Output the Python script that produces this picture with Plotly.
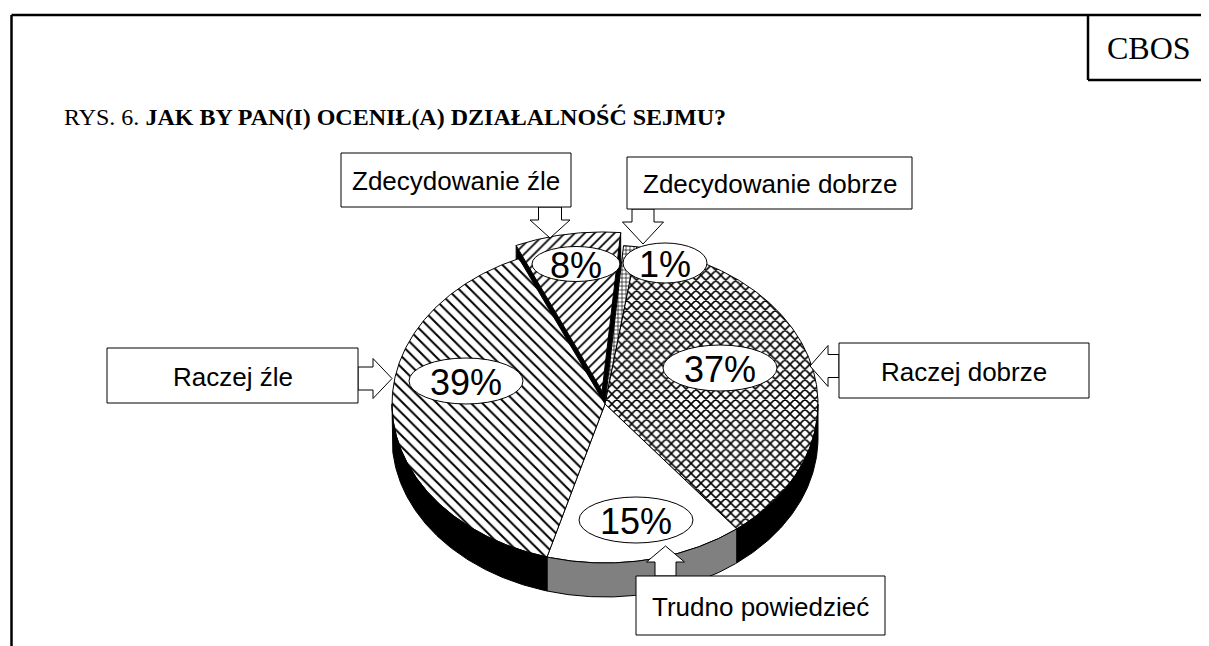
import numpy as np
import plotly.graph_objects as go

# ---------------- data ----------------
categories = ["Zdecydowanie dobrze", "Raczej dobrze", "Trudno powiedzieć", "Raczej źle", "Zdecydowanie źle"]
values = [1, 37, 15, 39, 8]
value_labels = [f"{v}%" for v in values]

title_prefix = "RYS. 6. "
title_main = "JAK BY PAN(I) OCENIŁ(A) DZIAŁALNOŚĆ SEJMU?"
source_label = "CBOS"

# ---------------- styles / layout constants ----------------
patterns = ["+", "x", "", "\\", "/"]
pattern_sizes = [4, 7, 8, 8, 7]
pattern_solid = [0.3, 0.4, 0.2, 0.25, 0.25]
wall_colors = ["black", "black", "#808080", "black", "black"]
explode = [0, 0, 0, 0, 0.083]

W, H = 1209, 646
PAGE_MARGIN = 8  # browser default body margin; axis ranges shifted so coordinates equal screen pixels
CX, CY, RX, RY, DEPTH = 605, 404, 213, 159, 34
START = 5.0  # degrees clockwise from 12 o'clock

# percent label ellipses (cx, cy, rx, ry), in category order
pct_pos = [(665, 263, 42, 20), (720, 368, 57, 23), (636, 520, 57, 23), (466, 381, 57, 23), (576, 264, 44, 17.5)]
# category boxes (x0, y0, x1, y1)
box_pos = [(627, 157, 912, 209), (839, 343, 1089, 398), (636, 576, 885, 635), (107, 348, 358, 403), (341, 153, 571, 207)]
# block arrows: base(x, y), direction, shaft length, head length, shaft half width, head half width
arrow_spec = [
    ((643, 209), (0, 1), 13, 22, 11, 20.5),
    ((839, 366), (-1, 0), 11, 18, 11.5, 20.5),
    ((665.5, 576), (0, -1), 14, 16, 10.5, 19),
    ((358, 378.5), (1, 0), 15, 19, 11.5, 20),
    ((550, 207), (0, 1), 13, 18, 11.5, 20),
]

LABEL_FONT = "Liberation Sans, Arial, sans-serif"
SERIF = "Liberation Serif, Times New Roman, serif"

# ---------------- geometry from values ----------------
total = float(sum(values))
bounds = START + 360.0 * np.concatenate([[0], np.cumsum(values)]) / total


def ept(theta, off=(0.0, 0.0), dz=0.0):
    t = np.radians(theta)
    return CX + RX * np.sin(t) + off[0], CY - RY * np.cos(t) + off[1] + dz


fig = go.Figure()
offsets = []
for i in range(len(values)):
    a0, a1 = bounds[i], bounds[i + 1]
    mid = np.radians((a0 + a1) / 2)
    e = explode[i]
    offsets.append((e * RX * np.sin(mid), -e * RY * np.cos(mid)))

# radial walls of exploded slices (drawn first, behind)
for i in range(len(values)):
    if explode[i] == 0:
        continue
    off = offsets[i]
    for edge in (bounds[i], bounds[i + 1]):
        ex, ey = ept(edge, off)
        ax, ay = CX + off[0], CY + off[1]
        fig.add_trace(go.Scatter(
            x=[ax, ex, ex, ax, ax], y=[ay, ey, ey + DEPTH, ay + DEPTH, ay],
            mode="lines", fill="toself", fillcolor="black",
            line=dict(color="black", width=1), hoverinfo="skip", showlegend=False))

# slice tops
order = [i for i in range(len(values)) if explode[i] != 0] + [i for i in range(len(values)) if explode[i] == 0]
for i in order:
    a0, a1 = bounds[i], bounds[i + 1]
    off = offsets[i]
    th = np.linspace(a0, a1, max(4, int((a1 - a0) * 2)))
    xs, ys = ept(th, off)
    x = [CX + off[0]] + list(xs) + [CX + off[0]]
    y = [CY + off[1]] + list(ys) + [CY + off[1]]
    fp = dict(shape=patterns[i], size=pattern_sizes[i], solidity=pattern_solid[i],
              fgcolor="black", bgcolor="white", fillmode="replace")
    fig.add_trace(go.Scatter(
        x=x, y=y, mode="lines", fill="toself", fillcolor="white", fillpattern=fp,
        line=dict(color="black", width=1), name=categories[i],
        text=f"{categories[i]}: {value_labels[i]}", hoverinfo="text", hoveron="fills",
        showlegend=False))

# front side walls
for i in range(len(values)):
    if explode[i] != 0:
        continue
    a0, a1 = bounds[i], bounds[i + 1]
    for lo_f, hi_f in ((90, 270), (450, 630)):
        lo, hi = max(a0, lo_f), min(a1, hi_f)
        if hi <= lo:
            continue
        th = np.linspace(lo, hi, max(4, int((hi - lo) * 2)))
        tx, ty = ept(th)
        bx, by = ept(th[::-1], dz=DEPTH)
        x = list(tx) + list(bx) + [tx[0]]
        y = list(ty) + list(by) + [ty[0]]
        fig.add_trace(go.Scatter(
            x=x, y=y, mode="lines", fill="toself", fillcolor=wall_colors[i],
            line=dict(color="black", width=1), hoverinfo="skip", showlegend=False))

shapes = []
annotations = []

# frame
FR = dict(color="black", width=2.5)
shapes.append(dict(type="line", x0=11.5, x1=W + 10, y0=15, y1=15, line=FR, xref="x", yref="y"))
shapes.append(dict(type="line", x0=11.5, x1=11.5, y0=15, y1=H + 10, line=FR, xref="x", yref="y"))
shapes.append(dict(type="line", x0=1088, x1=1088, y0=15, y1=80, line=FR, xref="x", yref="y"))
shapes.append(dict(type="line", x0=1088, x1=W + 10, y0=80, y1=80, line=FR, xref="x", yref="y"))
annotations.append(dict(x=1149, y=48, text=source_label, showarrow=False, xref="x", yref="y",
                        font=dict(family=SERIF, size=32, color="black"), xanchor="center", yanchor="middle"))
annotations.append(dict(x=62, y=117, text=f"{title_prefix}<b>{title_main}</b>", showarrow=False, xref="x", yref="y",
                        font=dict(family=SERIF, size=24, color="black"), xanchor="left", yanchor="middle"))

# percent ellipses
for i, (px, py, prx, pry) in enumerate(pct_pos):
    shapes.append(dict(type="circle", xref="x", yref="y", x0=px - prx, x1=px + prx, y0=py - pry, y1=py + pry,
                       fillcolor="white", line=dict(color="black", width=1)))
    annotations.append(dict(x=px, y=py + 1, text=value_labels[i], showarrow=False, xref="x", yref="y",
                            font=dict(family=LABEL_FONT, size=36, color="black"), xanchor="center", yanchor="middle"))

# category boxes and arrows
for i, (x0, y0, x1, y1) in enumerate(box_pos):
    (bx, by), (dx, dy), L, hl, sw, hw = arrow_spec[i]
    px_, py_ = -dy, dx
    pts = [
        (bx + px_ * sw, by + py_ * sw),
        (bx + dx * L + px_ * sw, by + dy * L + py_ * sw),
        (bx + dx * L + px_ * hw, by + dy * L + py_ * hw),
        (bx + dx * (L + hl), by + dy * (L + hl)),
        (bx + dx * L - px_ * hw, by + dy * L - py_ * hw),
        (bx + dx * L - px_ * sw, by + dy * L - py_ * sw),
        (bx - px_ * sw, by - py_ * sw),
    ]
    path = "M " + " L ".join(f"{a:.1f},{b:.1f}" for a, b in pts) + " Z"
    shapes.append(dict(type="path", path=path, xref="x", yref="y", fillcolor="white",
                       line=dict(color="black", width=1)))
    shapes.append(dict(type="rect", xref="x", yref="y", x0=x0, x1=x1, y0=y0, y1=y1,
                       fillcolor="white", line=dict(color="black", width=1)))
    annotations.append(dict(x=(x0 + x1) / 2, y=(y0 + y1) / 2 + 1, text=categories[i], showarrow=False,
                            xref="x", yref="y", font=dict(family=LABEL_FONT, size=26, color="black"),
                            xanchor="center", yanchor="middle"))

fig.update_layout(
    width=W, height=H,
    margin=dict(l=0, r=0, t=0, b=0),
    paper_bgcolor="white", plot_bgcolor="white",
    xaxis=dict(range=[PAGE_MARGIN, W + PAGE_MARGIN], visible=False, fixedrange=True),
    yaxis=dict(range=[H + PAGE_MARGIN, PAGE_MARGIN], visible=False, fixedrange=True),
    showlegend=False,
    shapes=shapes,
    annotations=annotations,
)

fig.write_html("out.html")
